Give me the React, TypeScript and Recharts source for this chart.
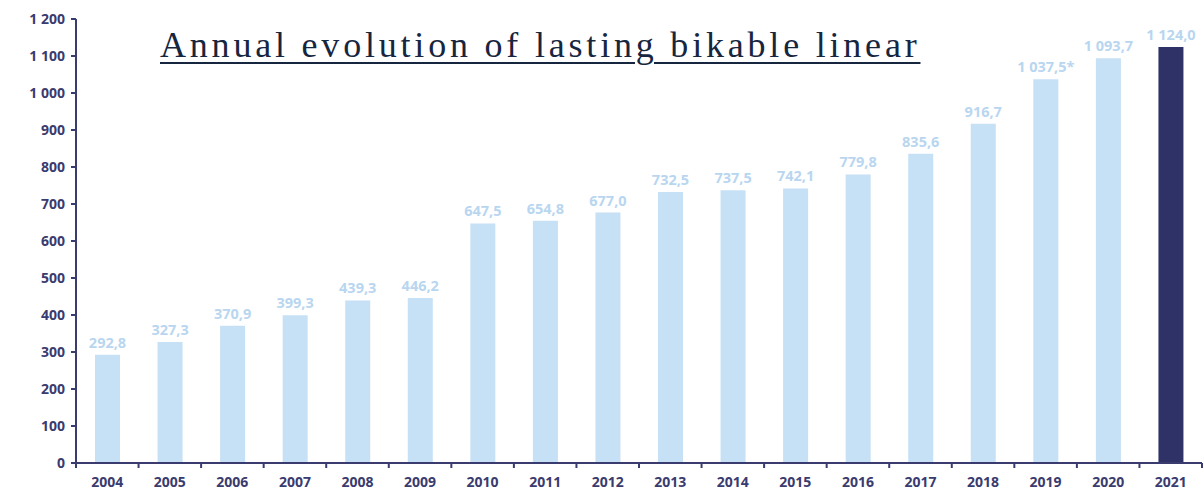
import { BarChart, Bar, XAxis, YAxis, Cell, LabelList } from 'recharts'

const years = ['2004', '2005', '2006', '2007', '2008', '2009', '2010', '2011', '2012', '2013', '2014', '2015', '2016', '2017', '2018', '2019', '2020', '2021']
const lengths = [292.8, 327.3, 370.9, 399.3, 439.3, 446.2, 647.5, 654.8, 677.0, 732.5, 737.5, 742.1, 779.8, 835.6, 916.7, 1037.5, 1093.7, 1124.0]
const valueLabels = ['292,8', '327,3', '370,9', '399,3', '439,3', '446,2', '647,5', '654,8', '677,0', '732,5', '737,5', '742,1', '779,8', '835,6', '916,7', '1 037,5*', '1 093,7', '1 124,0']
const yTicks = [0, 100, 200, 300, 400, 500, 600, 700, 800, 900, 1000, 1100, 1200]

const data = years.map((year, i) => ({ year, value: lengths[i], label: valueLabels[i] }))

const AXIS = '#3a3b6e'
const LIGHT = '#c6e0f5'
const DARK = '#2f3267'
const FONT = '"Open Sans", "Noto Sans", sans-serif'

// thousands separated with a space, like "1 200"
const fmtTick = (v: number) => (v >= 1000 ? `${Math.floor(v / 1000)} ${String(v % 1000).padStart(3, '0')}` : String(v))

function YearTick(props: any) {
  const { x, y, payload, index } = props
  const half = payload?.offset ?? 31.3
  const isLast = index === years.length - 1
  return (
    <g>
      <line x1={x - half} y1={y} x2={x - half} y2={y + 5} stroke={AXIS} strokeWidth={2} />
      {isLast && <line x1={x + half} y1={y} x2={x + half} y2={y + 5} stroke={AXIS} strokeWidth={2} />}
      <text x={x} y={y + 24} textAnchor="middle" fill={AXIS} fontSize={14} fontWeight={700} fontFamily={FONT}>
        {payload.value}
      </text>
    </g>
  )
}

// value above each bar, kept on one line
function ValueLabel(props: any) {
  const { x, y, width, value } = props
  return (
    <text x={x + width / 2} y={y - 7} textAnchor="middle" fill="#b9d6f0" fontSize={14.5} fontWeight={700} fontFamily={FONT}>
      {value}
    </text>
  )
}

export default function App() {
  return (
    <div style={{ position: 'absolute', left: 0, top: 0, width: 1204, height: 498, background: '#fff' }}>
      <BarChart width={1204} height={498} data={data} margin={{ top: 19, right: 2, bottom: 0, left: 0 }}>
        <XAxis
          dataKey="year"
          height={35}
          tickSize={0}
          tickMargin={0}
          tick={<YearTick />}
          axisLine={{ stroke: AXIS, strokeWidth: 2 }}
          interval={0}
        />
        <YAxis
          width={76}
          domain={[0, 1200]}
          ticks={yTicks}
          interval={0}
          tickFormatter={fmtTick}
          tickSize={5}
          tickMargin={6}
          axisLine={{ stroke: AXIS, strokeWidth: 2 }}
          tickLine={{ stroke: AXIS, strokeWidth: 2 }}
          tick={{ fill: AXIS, fontSize: 14, fontWeight: 700, fontFamily: FONT }}
        />
        <Bar dataKey="value" barSize={25} isAnimationActive={false}>
          {data.map((d, i) => (
            <Cell key={d.year} fill={i === data.length - 1 ? DARK : LIGHT} />
          ))}
          <LabelList dataKey="label" content={<ValueLabel />} />
        </Bar>
      </BarChart>

      {/* Title */}
      <div
        style={{
          position: 'absolute',
          left: 160,
          top: 24,
          fontFamily: '"Liberation Serif", "DejaVu Serif", serif',
          fontSize: 36,
          letterSpacing: 3.8,
          color: '#17263f',
          textDecoration: 'underline',
          textDecorationThickness: 2,
          textUnderlineOffset: 5,
          whiteSpace: 'nowrap',
        }}
      >
        Annual evolution of lasting bikable linear
      </div>
    </div>
  )
}
